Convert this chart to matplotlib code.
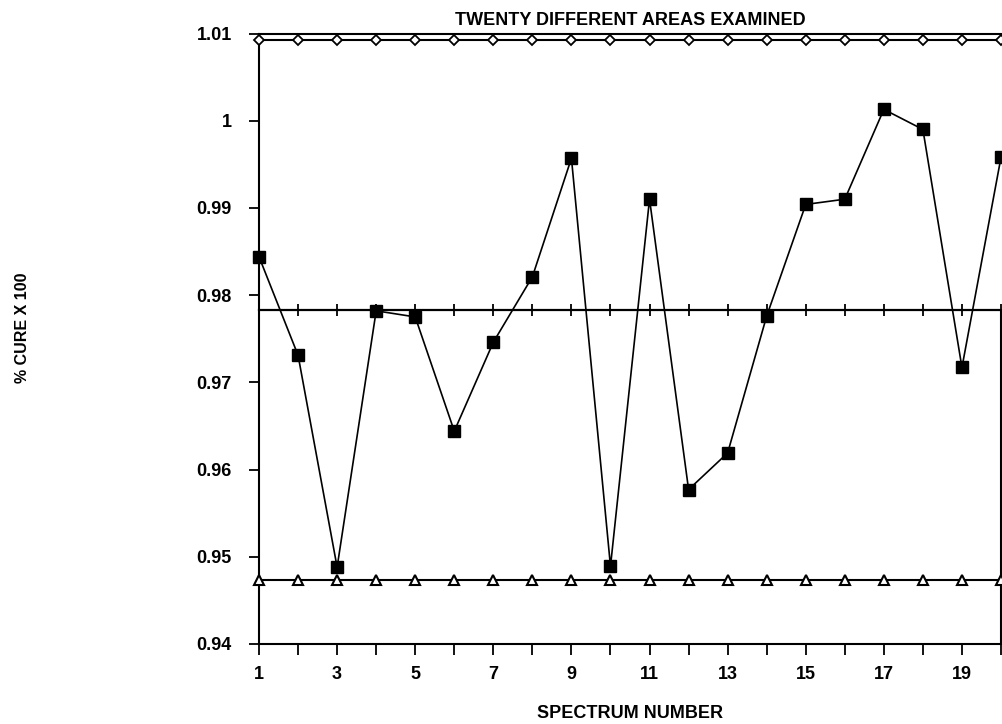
import matplotlib.pyplot as plt
from matplotlib.ticker import FixedLocator

plt.rcParams['font.family'] = ['Liberation Sans', 'DejaVu Sans']
plt.rcParams['font.weight'] = 'bold'

spectrum = list(range(1, 21))
cure = [0.9844, 0.9731, 0.9488, 0.9782, 0.9775, 0.9644, 0.9746, 0.9821, 0.9957, 0.9489,
        0.9910, 0.9577, 0.9619, 0.9776, 0.9904, 0.9910, 1.0013, 0.9990, 0.9717, 0.9958]
ucl = 1.0093
center = 0.9783
lcl = 0.9473
yticks = [0.94, 0.95, 0.96, 0.97, 0.98, 0.99, 1.0, 1.01]
ytick_labels = ['0.94', '0.95', '0.96', '0.97', '0.98', '0.99', '1', '1.01']

fig = plt.figure(figsize=(10.02, 7.24), dpi=100)
ax = fig.add_axes([0.2585, 0.1106, 0.7405, 0.8431])

n = len(spectrum)
# control limits
ax.plot(spectrum, [ucl] * n, color='black', lw=1.5, marker='D', ms=5.5,
        mfc='white', mec='black', mew=1.3, clip_on=False, zorder=3)
ax.plot(spectrum, [center] * n, color='black', lw=1.6, marker='|', ms=8,
        mew=1.3, clip_on=False, zorder=3)
ax.plot(spectrum, [lcl] * n, color='black', lw=1.5, marker='^', ms=7.5,
        mfc='white', mec='black', mew=1.5, clip_on=False, zorder=3)
# measured cure
ax.plot(spectrum, cure, color='black', lw=1.2, marker='s', ms=8.5,
        mfc='black', mec='black', clip_on=False, zorder=4)

ax.set_xlim(1, 20)
ax.set_ylim(0.94, 1.01)
ax.xaxis.set_major_locator(FixedLocator(spectrum[::2]))
ax.xaxis.set_minor_locator(FixedLocator(spectrum[1::2]))
ax.set_yticks(yticks)
ax.set_yticklabels(ytick_labels)

ax.tick_params(axis='x', which='both', direction='out', length=8, width=1.3,
               labelsize=13, pad=8)
ax.tick_params(axis='y', direction='out', length=7, width=1.3, labelsize=13, pad=12.5)
for lab in ax.get_xticklabels() + ax.get_yticklabels():
    lab.set_fontweight('bold')

ax.spines['right'].set_visible(False)
for s in ['left', 'top', 'bottom']:
    ax.spines[s].set_linewidth(1.5)
ax.vlines(spectrum[-1], 0.94, center, color='black', lw=1.5, clip_on=False)

ax.set_title('TWENTY DIFFERENT AREAS EXAMINED', fontsize=13, fontweight='bold', pad=6)
ax.set_xlabel('SPECTRUM NUMBER', fontsize=13, fontweight='bold', labelpad=16)
fig.text(0.022, 1 - 328 / 724, '% CURE X 100', rotation=90, fontsize=11.5,
         fontweight='bold', ha='center', va='center')

fig.savefig('out.png', dpi=100)
